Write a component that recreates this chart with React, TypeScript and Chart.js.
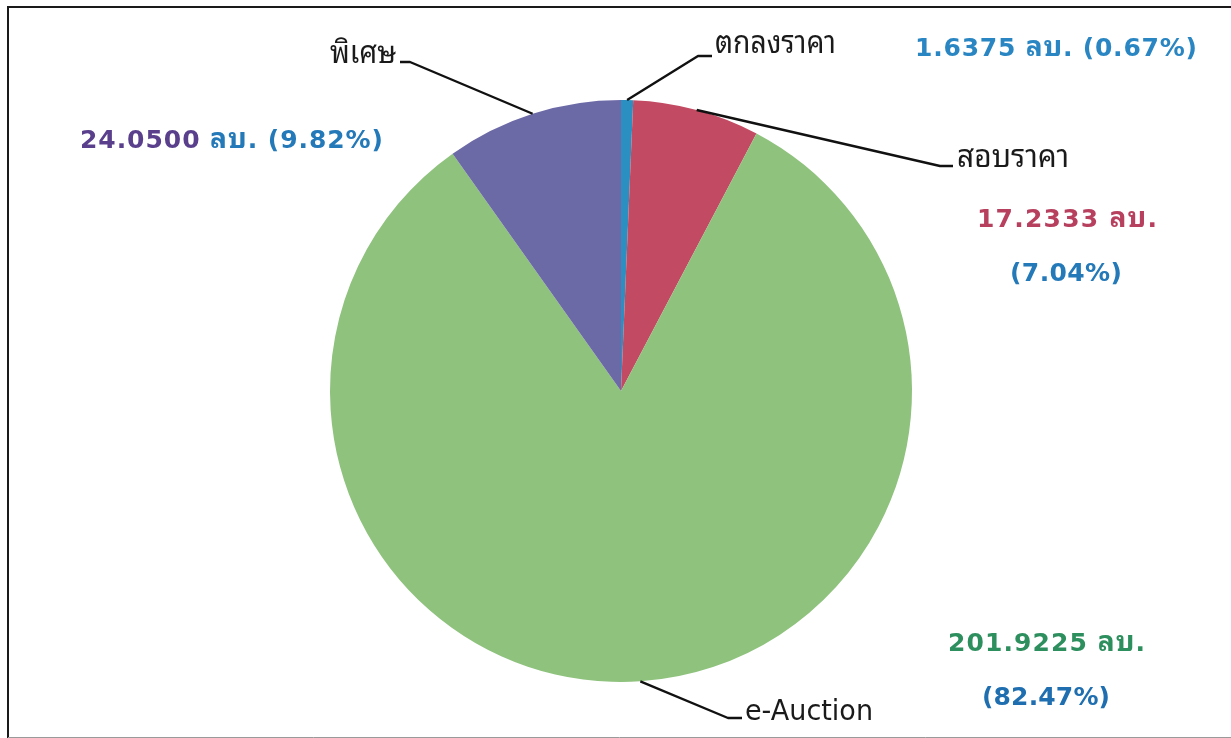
import React, { useEffect, useRef } from "react";
import { Chart, ArcElement, PieController } from "chart.js";

Chart.register(ArcElement, PieController);

const categories = ["ตกลงราคา", "สอบราคา", "e-Auction", "พิเศษ"];
const values = [1.6375, 17.2333, 201.9225, 24.05];
const unitLabel = "ลบ.";
const sliceColors = ["#2b8fc2", "#c24a62", "#8ec27d", "#6c69a7"];

const total = values.reduce((a, b) => a + b, 0);
const valueTexts = values.map((v) => v.toFixed(4));
const percentTexts = values.map((v) => ((v / total) * 100).toFixed(2) + "%");

const THAI_FONT = "'Noto Sans Thai Looped', 'Noto Sans Thai', 'Noto Sans Thai UI', Tahoma, 'Noto Sans', 'DejaVu Sans', sans-serif";
const NUM_FONT = "'DejaVu Sans', 'Noto Sans Thai', sans-serif";

type Seg = { text: string; color: string };
type LabelLayout = {
  elbow: [number, number];
  end: [number, number];
  name: { x: number; y: number; w: number; align: "left" | "right" };
  lines: { x: number; y: number; w: number; segs: (i: number) => Seg[] }[];
};

const BLUE = "#2479b8";
const layout: LabelLayout[] = [
  {
    elbow: [698, 56],
    end: [712, 56],
    name: { x: 715, y: 53, w: 121, align: "left" },
    lines: [
      {
        x: 915, y: 56, w: 282,
        segs: (i) => [{ text: `${valueTexts[i]} ${unitLabel} (${percentTexts[i]})`, color: "#2a86c2" }],
      },
    ],
  },
  {
    elbow: [940, 166],
    end: [953, 166],
    name: { x: 957, y: 167, w: 112, align: "left" },
    lines: [
      { x: 977, y: 227, w: 180, segs: (i) => [{ text: `${valueTexts[i]} ${unitLabel}`, color: "#b8405f" }] },
      { x: 1010, y: 281, w: 112, segs: (i) => [{ text: `(${percentTexts[i]})`, color: BLUE }] },
    ],
  },
  {
    elbow: [728, 718],
    end: [742, 718],
    name: { x: 745, y: 720, w: 128, align: "left" },
    lines: [
      { x: 948, y: 651, w: 197, segs: (i) => [{ text: `${valueTexts[i]} ${unitLabel}`, color: "#2e8f5e" }] },
      { x: 982, y: 705, w: 128, segs: (i) => [{ text: `(${percentTexts[i]})`, color: "#1f6fb0" }] },
    ],
  },
  {
    elbow: [410, 62],
    end: [400, 62],
    name: { x: 396, y: 63, w: 66, align: "right" },
    lines: [
      {
        x: 80, y: 148, w: 303,
        segs: (i) => [
          { text: valueTexts[i], color: "#5a3f8c" },
          { text: ` ${unitLabel} (${percentTexts[i]})`, color: BLUE },
        ],
      },
    ],
  },
];

const isThai = (ch: string) => /[\u0E00-\u0E7F]/.test(ch);

function splitRuns(segs: Seg[]) {
  const runs: { text: string; color: string; thai: boolean }[] = [];
  for (const s of segs) {
    for (const ch of Array.from(s.text)) {
      const t = isThai(ch);
      const last = runs[runs.length - 1];
      if (last && last.color === s.color && last.thai === t) last.text += ch;
      else runs.push({ text: ch, color: s.color, thai: t });
    }
  }
  return runs;
}

function drawSegs(ctx: CanvasRenderingContext2D, segs: Seg[], x: number, y: number, w: number) {
  const runs = splitRuns(segs);
  const fontFor = (thai: boolean) => (thai ? `bold 28px ${THAI_FONT}` : `bold 25px ${NUM_FONT}`);
  let measured = 0;
  let n = 0;
  for (const r of runs) {
    ctx.font = fontFor(r.thai);
    measured += ctx.measureText(r.text).width;
    n += Array.from(r.text).length;
  }
  const sp = n > 1 ? (w - measured) / (n - 1) : 0;
  ctx.textAlign = "left";
  ctx.textBaseline = "alphabetic";
  let cx = x;
  for (const r of runs) {
    ctx.font = fontFor(r.thai);
    ctx.fillStyle = r.color;
    for (const ch of Array.from(r.text)) {
      ctx.fillText(ch, cx, y);
      cx += ctx.measureText(ch).width + sp;
    }
  }
}

const labelPlugin = {
  id: "pieLabels",
  beforeDraw(chart: any) {
    const ctx: CanvasRenderingContext2D = chart.ctx;
    ctx.save();
    ctx.fillStyle = "#ffffff";
    ctx.fillRect(0, 0, chart.width, chart.height);
    ctx.restore();
  },
  afterDraw(chart: any) {
    const ctx: CanvasRenderingContext2D = chart.ctx;
    const meta = chart.getDatasetMeta(0);
    ctx.save();
    // frame
    ctx.strokeStyle = "#1a1a1a";
    ctx.lineWidth = 2;
    ctx.beginPath();
    ctx.moveTo(chart.width, 7);
    ctx.lineTo(8, 7);
    ctx.lineTo(8, chart.height);
    ctx.stroke();
    ctx.strokeStyle = "#9a9a9a";
    ctx.lineWidth = 1;
    ctx.beginPath();
    ctx.moveTo(8, 737.5);
    ctx.lineTo(chart.width, 737.5);
    ctx.stroke();

    meta.data.forEach((arc: any, i: number) => {
      const p = arc.getProps(["x", "y", "startAngle", "endAngle", "outerRadius"], true);
      const mid = (p.startAngle + p.endAngle) / 2;
      const sx = p.x + Math.cos(mid) * p.outerRadius;
      const sy = p.y + Math.sin(mid) * p.outerRadius;
      const L = layout[i];
      ctx.strokeStyle = "#111111";
      ctx.lineWidth = 2.4;
      ctx.lineJoin = "round";
      ctx.beginPath();
      ctx.moveTo(sx, sy);
      ctx.lineTo(L.elbow[0], L.elbow[1]);
      ctx.lineTo(L.end[0], L.end[1]);
      ctx.stroke();

      // name label
      const thai = isThai(categories[i]);
      const size = thai ? 31 : 28;
      ctx.font = `${size}px ${thai ? THAI_FONT : NUM_FONT}`;
      const mw = ctx.measureText(categories[i]).width;
      const sxs = Math.max(0.8, Math.min(1.25, L.name.w / mw));
      ctx.fillStyle = "#1a1a1a";
      ctx.textAlign = L.name.align;
      ctx.textBaseline = "alphabetic";
      ctx.save();
      ctx.translate(L.name.x, L.name.y);
      ctx.scale(sxs, 1);
      ctx.fillText(categories[i], 0, 0);
      ctx.restore();

      for (const ln of L.lines) drawSegs(ctx, ln.segs(i), ln.x, ln.y, ln.w);
    });
    ctx.restore();
  },
};

export default function App() {
  const ref = useRef<HTMLCanvasElement>(null);
  useEffect(() => {
    if (!ref.current) return;
    const chart = new Chart(ref.current, {
      type: "pie",
      data: {
        labels: categories,
        datasets: [
          {
            data: values,
            backgroundColor: sliceColors,
            borderWidth: 0,
          },
        ],
      },
      options: {
        responsive: false,
        animation: false,
        events: [],
        layout: { padding: { left: 330, right: 319, top: 100, bottom: 56 } },
        plugins: { legend: { display: false }, tooltip: { enabled: false } },
      },
      plugins: [labelPlugin],
    });
    return () => chart.destroy();
  }, []);
  return (
    <div style={{ position: "absolute", left: 0, top: 0, width: 1231, height: 738 }}>
      <canvas ref={ref} width={1231} height={738} style={{ display: "block" }} />
    </div>
  );
}
